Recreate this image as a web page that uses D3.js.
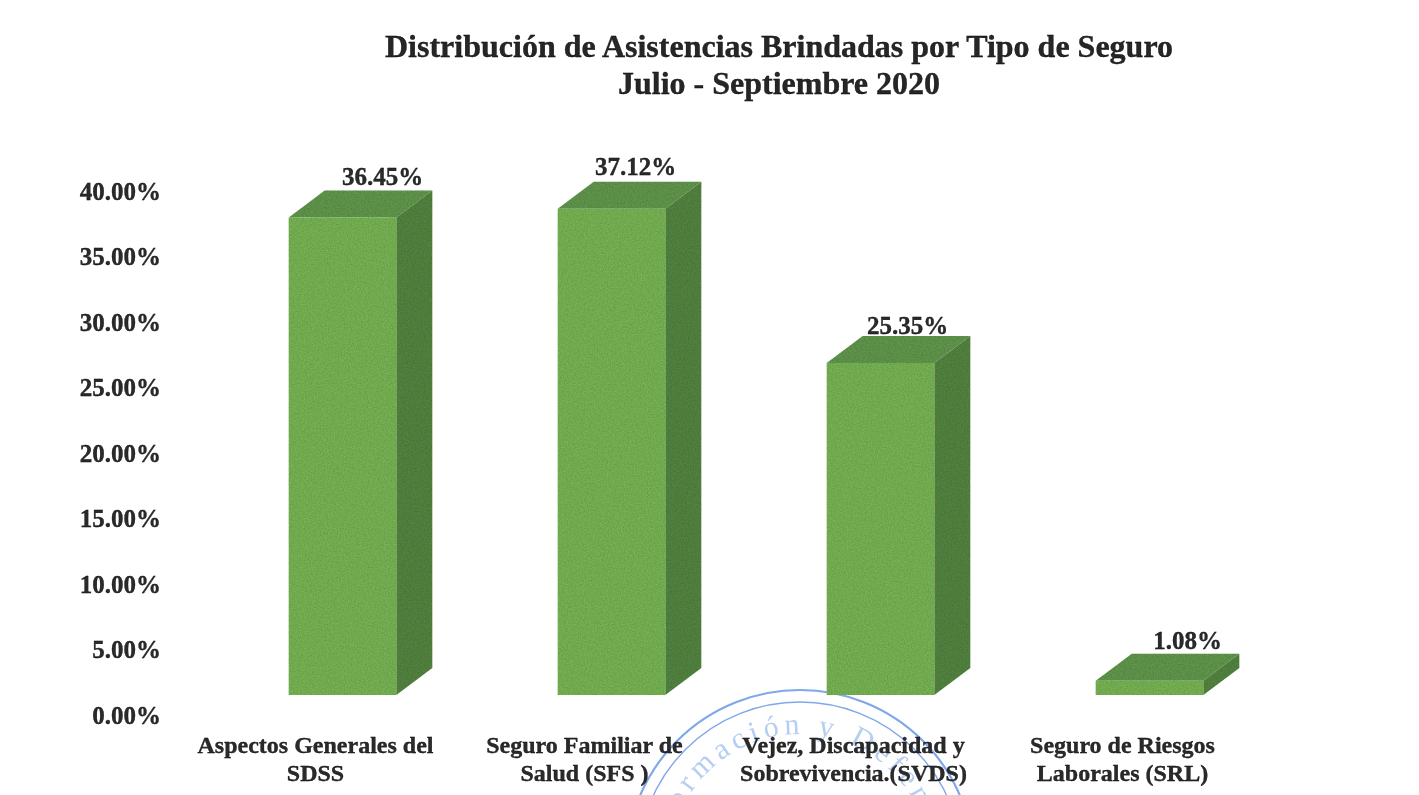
<!DOCTYPE html>
<html>
<head>
<meta charset="utf-8">
<script src="https://d3js.org/d3.v7.min.js"></script>
<style>
    html, body { margin: 0; padding: 0; background: #fff; }
    svg { display: block; }
    text { font-family: "Liberation Serif", serif; font-weight: bold; stroke: currentColor; stroke-width: 0.3px; }
    .axis path, .axis line { display: none; }
</style>
</head>
<body>
<svg id="chart" width="1419" height="795"></svg>
<script>
var titleLines = ["Distribución de Asistencias Brindadas por Tipo de Seguro", "Julio - Septiembre 2020"];
var categories = ["Aspectos Generales del|SDSS", "Seguro Familiar de|Salud (SFS )", "Vejez, Discapacidad y|Sobrevivencia.(SVDS)", "Seguro de Riesgos|Laborales (SRL)"];
var values = [36.45, 37.12, 25.35, 1.08];
var tickValues = [0, 5, 10, 15, 20, 25, 30, 35, 40];

var width = 1419, height = 795;
var depthX = 36, depthY = -27;
var svg = d3.select('#chart');

// scanned look: soft edges everywhere, some grain on the bars
var defs = svg.append("defs");
defs.append("filter").attr("id", "soft")
    .attr("x", 0).attr("y", 0).attr("width", 1).attr("height", 1)
    .attr("filterUnits", "userSpaceOnUse")
    .attr("width", width).attr("height", height)
    .append("feGaussianBlur").attr("stdDeviation", 0.55);
var grain = defs.append("filter").attr("id", "grain");
grain.append("feTurbulence")
    .attr("type", "fractalNoise").attr("baseFrequency", 0.7).attr("numOctaves", 2).attr("seed", 4)
    .attr("result", "noise");
grain.append("feColorMatrix")
    .attr("in", "noise").attr("type", "matrix")
    .attr("values", "0 0 0 0 0  0 0 0 0 0  0 0 0 0 0  0.5 0 0 0 -0.12")
    .attr("result", "dark");
grain.append("feComposite").attr("in", "dark").attr("in2", "SourceAlpha").attr("operator", "in").attr("result", "speck");
var merge = grain.append("feMerge");
merge.append("feMergeNode").attr("in", "SourceGraphic");
merge.append("feMergeNode").attr("in", "speck");

var root = svg.append("g").attr("filter", "url(#soft)");

var x = d3.scaleBand().domain(categories).range([208, 1284]).paddingInner(0.6).paddingOuter(0.3);
var y = d3.scaleLinear().domain([0, 40]).range([695, 171]);

// stamp sits behind the category labels
var stamp = root.append("g").attr("fill", "none").attr("stroke", "#7fa8ea");
stamp.append("circle").attr("cx", 800).attr("cy", 864).attr("r", 174).attr("stroke-width", 2.2);
stamp.append("circle").attr("cx", 800).attr("cy", 864).attr("r", 162).attr("stroke-width", 1.4);
root.append("path")
    .attr("id", "stampArc")
    .attr("fill", "none")
    .attr("d", d3.arc()({innerRadius: 130, outerRadius: 130, startAngle: -1.3, endAngle: 1.3}))
    .attr("transform", "translate(800,864)");
root.append("text")
    .attr("fill", "#b5cef2")
    .attr("font-size", 30)
    .style("font-weight", "normal")
    .style("stroke", "none")
    .attr("letter-spacing", 5)
    .append("textPath")
    .attr("href", "#stampArc")
    .attr("startOffset", "3%")
    .text("ormación y Defensa");

root.selectAll(".title")
    .data(titleLines)
    .enter()
    .append("text")
    .classed("title", true)
    .attr("x", 779)
    .attr("y", (d, i) => 57 + i * 37)
    .attr("font-size", 32)
    .attr("fill", "#262626")
    .style("text-anchor", "middle")
    .text(d => d);

var yAxis = d3.axisLeft(y)
    .tickValues(tickValues)
    .tickFormat(d => d3.format(".2f")(d) + "%")
    .tickSize(0);

root.append("g")
    .classed("axis", true)
    .attr("transform", "translate(161,20)")
    .call(yAxis)
    .call(g => g.selectAll("text")
        .attr("x", 0)
        .attr("font-size", 25)
        .attr("fill", "#2b2b2b"));

var bars = root.selectAll(".bar")
    .data(values)
    .enter()
    .append("g")
    .classed("bar", true)
    .attr("filter", "url(#grain)");

function barX(i) { return x(categories[i]); }

// right side face
bars.append("path")
    .attr("fill", "#558542")
    .attr("d", (d, i) => {
        var r = barX(i) + x.bandwidth();
        return d3.line()([[r, y(d)], [r + depthX, y(d) + depthY], [r + depthX, y(0) + depthY], [r, y(0)]]) + "Z";
    });
// top face
bars.append("path")
    .attr("fill", "#62984e")
    .attr("d", (d, i) => {
        var l = barX(i), r = l + x.bandwidth();
        return d3.line()([[l, y(d)], [l + depthX, y(d) + depthY], [r + depthX, y(d) + depthY], [r, y(d)]]) + "Z";
    });
// front face
bars.append("rect")
    .attr("fill", "#78b554")
    .attr("x", (d, i) => barX(i))
    .attr("y", d => y(d))
    .attr("width", x.bandwidth())
    .attr("height", d => y(0) - y(d));

// value labels were moved by hand in the original chart
var labelShiftX = [40, 24, 27, 38];
var labelShiftY = [-14, -15, -10, -13];

root.selectAll(".value")
    .data(values)
    .enter()
    .append("text")
    .classed("value", true)
    .attr("x", (d, i) => barX(i) + x.bandwidth() / 2 + labelShiftX[i])
    .attr("y", (d, i) => y(d) + depthY + labelShiftY[i])
    .attr("dy", "0.33em")
    .attr("font-size", 25)
    .attr("fill", "#2b2b2b")
    .style("text-anchor", "middle")
    .text(d => d.toFixed(2) + "%");

var catLabels = root.selectAll(".cat")
    .data(categories)
    .enter()
    .append("text")
    .classed("cat", true)
    .attr("x", d => x(d) + x.bandwidth() / 2 - 27)
    .attr("y", 753)
    .attr("font-size", 24)
    .attr("fill", "#2b2b2b")
    .style("text-anchor", "middle");

catLabels.selectAll("tspan")
    .data(d => d.split("|"))
    .enter()
    .append("tspan")
    .attr("x", function() { return d3.select(this.parentNode).attr("x"); })
    .attr("dy", (d, i) => i ? 28 : 0)
    .text(d => d);
</script>
</body>
</html>
